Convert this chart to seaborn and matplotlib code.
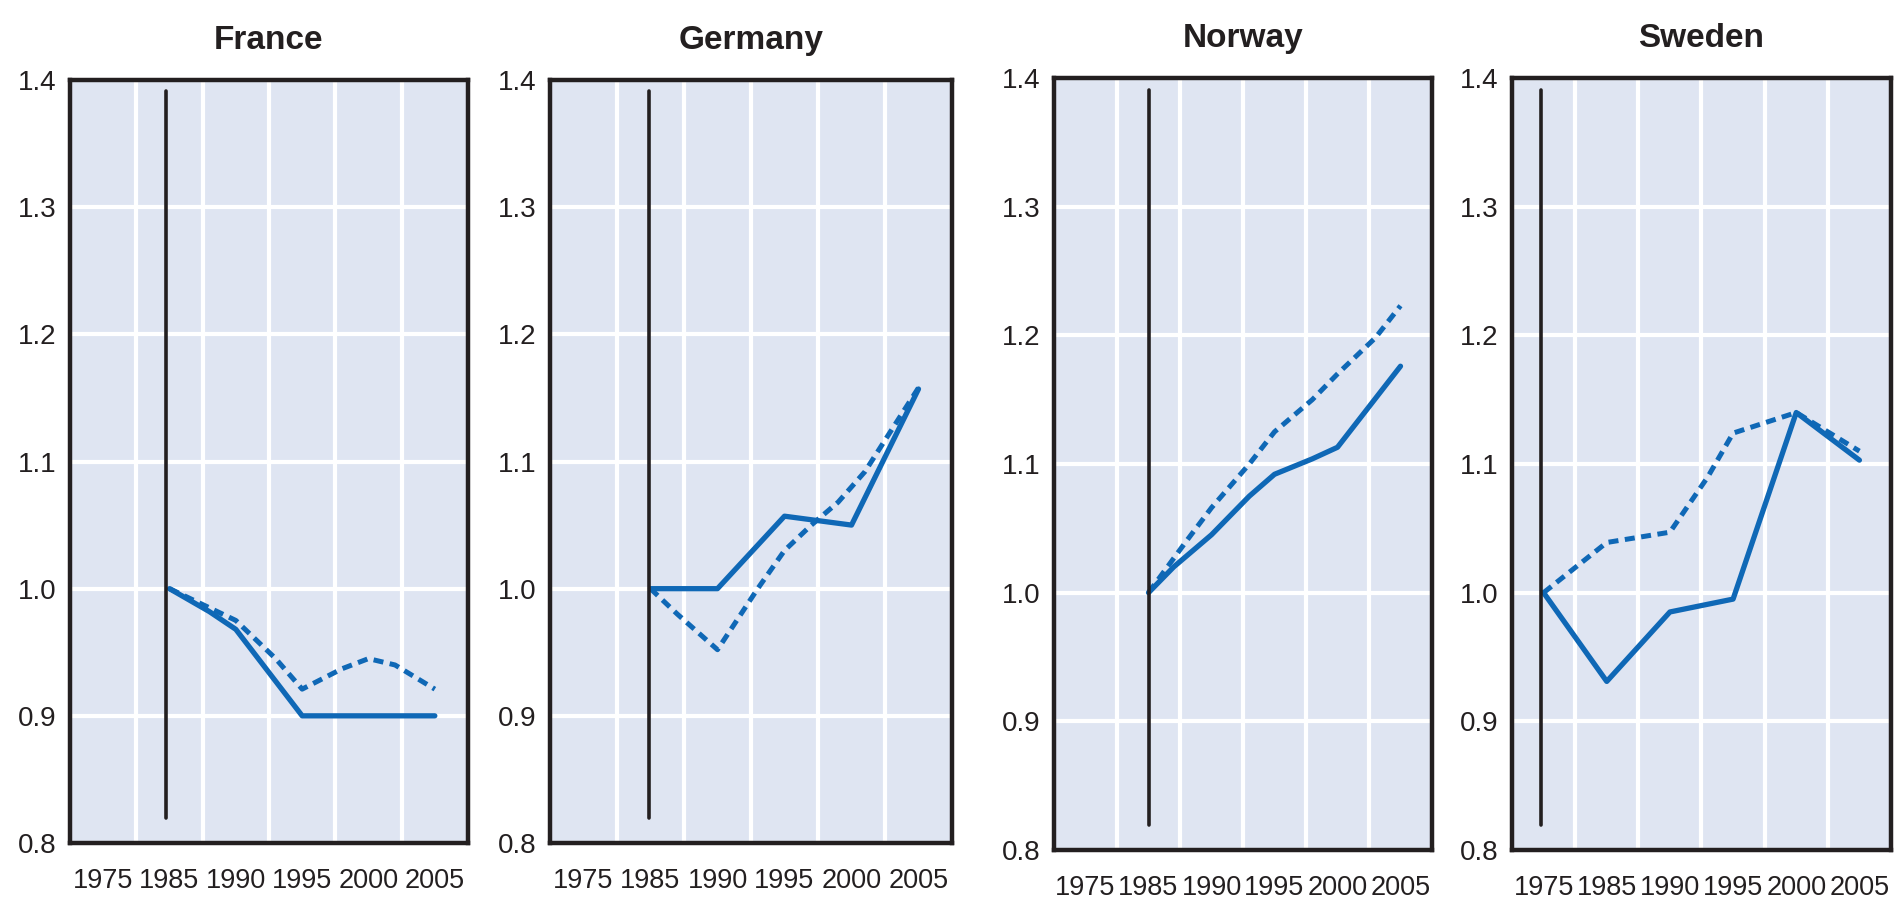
import matplotlib
matplotlib.use("Agg")
import matplotlib.pyplot as plt
import seaborn as sns

# data (index relative to start year)
countries = ["France", "Germany", "Norway", "Sweden"]

france_solid_years = [1985, 1988, 1990, 1995, 2000, 2005]
france_solid = [1.00, 0.982, 0.968, 0.90, 0.90, 0.90]
france_dash_years = [1985, 1990, 1993, 1995, 1998, 2000, 2002, 2005]
france_dash = [1.00, 0.975, 0.945, 0.921, 0.937, 0.945, 0.94, 0.921]

germany_solid_years = [1985, 1990, 1995, 2000, 2005]
germany_solid = [1.00, 1.00, 1.057, 1.05, 1.157]
germany_dash_years = [1985, 1987, 1990, 1993, 1995, 1997, 1999, 2001, 2005]
germany_dash = [1.00, 0.98, 0.952, 1.00, 1.03, 1.05, 1.068, 1.092, 1.158]

norway_solid_years = [1985, 1987, 1990, 1993, 1995, 1998, 2000, 2005]
norway_solid = [1.00, 1.02, 1.045, 1.075, 1.092, 1.104, 1.113, 1.176]
norway_dash_years = [1985, 1988, 1990, 1993, 1995, 1998, 2000, 2003, 2005]
norway_dash = [1.00, 1.04, 1.066, 1.10, 1.125, 1.15, 1.17, 1.198, 1.223]

sweden_solid_years = [1980, 1985, 1990, 1995, 2000, 2005]
sweden_solid = [1.00, 0.931, 0.985, 0.995, 1.14, 1.103]
sweden_dash_years = [1980, 1985, 1990, 1993, 1995, 2000, 2005]
sweden_dash = [1.00, 1.039, 1.047, 1.09, 1.124, 1.14, 1.11]

start_marks = [1984.7, 1984.9, 1985.0, 1979.8]

x_label_pos = [1980, 1985, 1990, 1995, 2000, 2005]
x_labels = ["1975", "1985", "1990", "1995", "2000", "2005"]
x_bounds = [1982.5, 1987.5, 1992.5, 1997.5, 2002.5]
y_ticks = [0.8, 0.9, 1.0, 1.1, 1.2, 1.3, 1.4]

series = [
    (france_solid_years, france_solid, france_dash_years, france_dash),
    (germany_solid_years, germany_solid, germany_dash_years, germany_dash),
    (norway_solid_years, norway_solid, norway_dash_years, norway_dash),
    (sweden_solid_years, sweden_solid, sweden_dash_years, sweden_dash),
]

# panel boxes in pixels: left, right, top, bottom
W, H = 1895, 905
boxes = [(70, 468, 80, 843), (550, 952, 80, 843),
         (1054, 1432, 78, 850), (1512, 1891, 78, 850)]

sns.set_style("white")
plt.rcParams['font.family'] = ['Liberation Sans', 'DejaVu Sans']
plt.rcParams['text.color'] = '#231f20'

BLUE = "#0f68b6"
INK = "#231f20"
BG = "#dfe5f2"

fig = plt.figure(figsize=(W / 100, H / 100), dpi=100)

for name, (sy, sv, dy, dv), mark, (l, r, t, b) in zip(countries, series, start_marks, boxes):
    ax = fig.add_axes([l / W, (H - b) / H, (r - l) / W, (b - t) / H])
    ax.set_facecolor(BG)
    ax.set_axisbelow(True)

    sns.lineplot(x=dy, y=dv, ax=ax, color=BLUE, lw=3.6, linestyle=(0, (2.0, 1.3)))
    sns.lineplot(x=sy, y=sv, ax=ax, color=BLUE, lw=3.8)
    ax.axvline(mark, ymin=0.033, ymax=0.985, color=INK, lw=2.6)

    ax.set_xlim(1977.5, 2007.5)
    ax.set_ylim(0.8, 1.4)
    ax.set_xticks(x_bounds)
    ax.set_xticklabels([])
    ax.set_xticks(x_label_pos, minor=True)
    ax.set_xticklabels(x_labels, minor=True, fontsize=19.5)
    ax.set_yticks(y_ticks)
    ax.set_yticklabels([f"{v:.1f}" for v in y_ticks], fontsize=20)

    ax.tick_params(axis='x', which='major', direction='in', length=16, width=3, color=INK)
    ax.tick_params(axis='x', which='minor', length=0, pad=18, labelcolor=INK)
    ax.tick_params(axis='y', direction='in', length=16, width=3, color=INK, pad=10, labelcolor=INK)

    ax.grid(True, which='major', color='white', lw=3)
    for s in ax.spines.values():
        s.set_visible(True)
        s.set_color(INK)
        s.set_linewidth(3.2)

    ax.set_xlabel("")
    ax.set_ylabel("")
    ax.set_title(name, fontsize=24, fontweight='bold', pad=22, color=INK)

fig.savefig("out.png", dpi=100)
